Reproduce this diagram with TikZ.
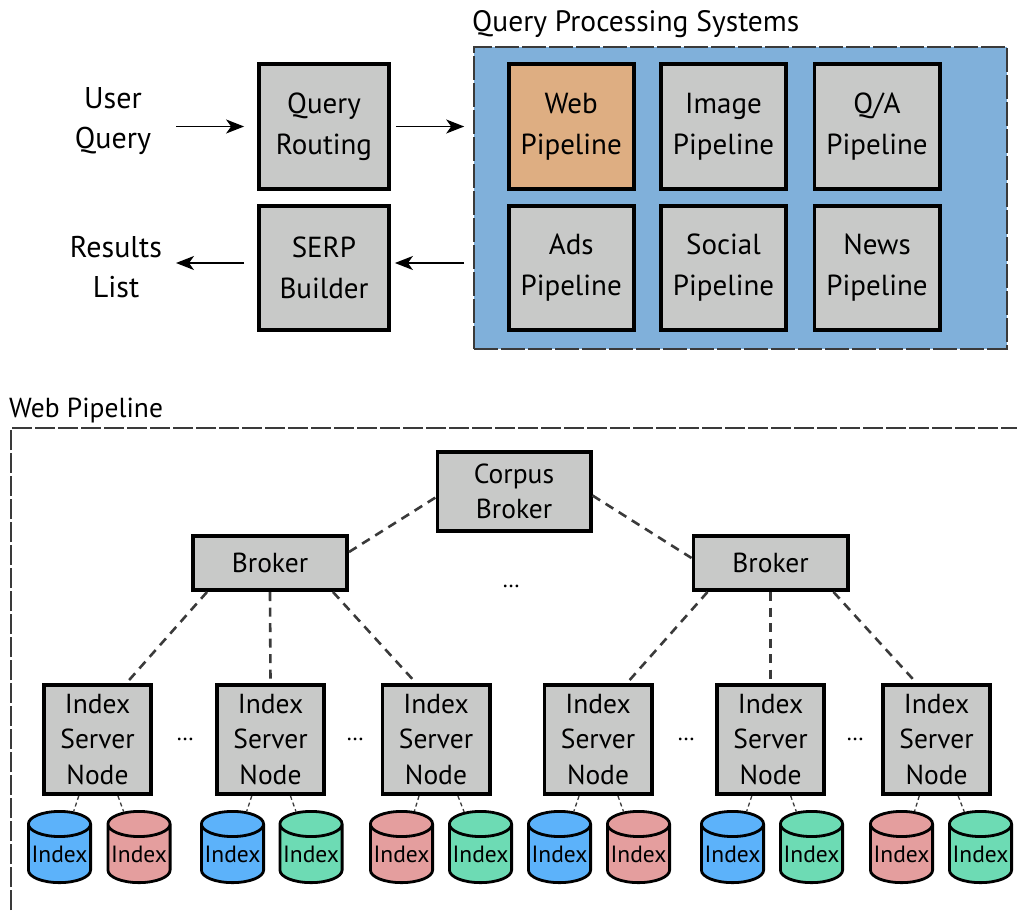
\documentclass[tikz,border=0pt]{standalone}
\usepackage{fontspec}
\setmainfont{PT Sans}
\usetikzlibrary{shapes.geometric,arrows.meta}

\definecolor{boxgray}{HTML}{C8C9C8}
\definecolor{webtan}{HTML}{DEAE82}
\definecolor{qpsblue}{HTML}{80B0DA}
\definecolor{idxblue}{HTML}{5CB2FA}
\definecolor{idxred}{HTML}{E49E9E}
\definecolor{idxgreen}{HTML}{6DDBB4}
\definecolor{linkgray}{HTML}{3A3A3A}

\tikzset{
  bigbox/.style={draw=black, line width=3.8pt, fill=boxgray, align=center,
    inner sep=0pt, minimum width=125.2pt, minimum height=124.7pt,
    font=\fontsize{29}{41}\selectfont},
  lowbox/.style={draw=black, line width=3.6pt, fill=boxgray, align=center,
    inner sep=0pt, font=\fontsize{27.5}{35.5}\selectfont},
  isnbox/.style={lowbox, minimum width=107.4pt, minimum height=109.4pt},
  idx/.style={cylinder, shape border rotate=90, aspect=0.45, draw=black,
    line width=2.8pt, cylinder uses custom fill, cylinder body fill=#1,
    cylinder end fill=#1, minimum width=62.2pt, minimum height=71.2pt,
    inner sep=0pt, font=\fontsize{23.5}{26}\selectfont},
  plain/.style={align=center, inner sep=0pt, font=\fontsize{30}{40}\selectfont},
  heading/.style={inner sep=0pt, anchor=base west},
  dots/.style={inner sep=0pt, font=\fontsize{23}{26}\selectfont},
  flow/.style={line width=1.5pt, -{Stealth[length=18pt, width=14pt, inset=5pt]}},
  link/.style={draw=linkgray, line width=2.6pt, dash pattern=on 9pt off 6.5pt},
  leaf/.style={draw=linkgray, line width=1.3pt, dash pattern=on 4pt off 3pt},
}

\begin{document}
\begin{tikzpicture}[x=1pt, y=-1pt]
\useasboundingbox (0,0) rectangle (1017,910);

% ---------- query processing systems ----------
\node[heading, font=\fontsize{29.5}{32}\selectfont] (qpslabel) at (472,31) {Query Processing Systems};
\node[draw=linkgray, line width=1.6pt, dash pattern=on 24pt off 3pt, fill=qpsblue,
      minimum width=533pt, minimum height=302pt, inner sep=0pt] (qps) at (740.5,198) {};

\node[bigbox, fill=webtan] (web) at (571.2,126.5) {Web\\Pipeline};
\node[bigbox] (image) at (723.5,126.5) {Image\\Pipeline};
\node[bigbox] (qa) at (877,126.5) {Q/A\\Pipeline};
\node[bigbox] (ads) at (571.2,268) {Ads\\Pipeline};
\node[bigbox] (social) at (723.5,268) {Social\\Pipeline};
\node[bigbox] (news) at (877,268) {News\\Pipeline};

\node[bigbox, minimum width=130pt] (route) at (324,126.5) {Query\\Routing};
\node[bigbox, minimum width=130pt] (serp) at (324,268) {SERP\\Builder};

\node[plain] (user) at (113,121) {User\\Query};
\node[plain] (results) at (116,267) {Results\\List};

\coordinate (leftend) at (176,0);
\draw[flow] (route.west -| leftend) -- ([xshift=-13pt]route.west);
\draw[flow] ([xshift=5pt]route.east) -- ([xshift=-9pt]route.east -| qps.west);
\draw[flow] ([xshift=-9pt, yshift=5pt]serp.east -| qps.west) -- ([xshift=4pt, yshift=5pt]serp.east);
\draw[flow] ([xshift=-13pt, yshift=5pt]serp.west) -- ([yshift=5pt]serp.west -| leftend);

% ---------- web pipeline ----------
\node[heading, font=\fontsize{27.5}{30}\selectfont] (wplabel) at (9,417) {Web Pipeline};
\coordinate (wpcorner) at (11,428);
\coordinate (wpfar) at (1017,910);
\draw[linkgray, line width=1.6pt, dash pattern=on 20pt off 3pt]
  (wpcorner |- wpfar) -- (wpcorner) -- (wpcorner -| wpfar);

\node[lowbox, minimum width=153.4pt, minimum height=79pt] (corpus) at (514,491.5) {Corpus\\Broker};
\node[lowbox, minimum width=154.4pt, minimum height=54.4pt] (brokerL) at (270,563) {Broker};
\node[lowbox, minimum width=154.4pt, minimum height=54.4pt] (brokerR) at (770.5,563) {Broker};
\node[dots] (dotsB) at (511,586) {…};

\draw[link] ([yshift=11pt]brokerL.east) -- ([yshift=-6pt]corpus.west);
\draw[link] ([yshift=-4pt]corpus.east) -- ([yshift=5pt]brokerR.west);

\foreach \n/\x in {1/97.5, 2/270.5, 3/436, 4/598, 5/770.5, 6/936.5}
  \node[isnbox] (isn\n) at (\x,739.5) {Index\\Server\\Node};

\foreach \n/\x in {a/185, b/355, c/686, d/855}
  \node[dots] (dots\n) at (\x,739) {…};

\foreach \b/\l/\m/\r in {brokerL/1/2/3, brokerR/4/5/6} {
  \draw[link] ([xshift=16pt]\b.south west) -- ([xshift=29pt]isn\l.north);
  \draw[link] (\b.south) -- (isn\m.north);
  \draw[link] ([xshift=-16pt]\b.south east) -- ([xshift=-20pt]isn\r.north);
}

\foreach \n/\x/\c/\s in {1/59.5/idxblue/1, 2/139/idxred/1, 3/232.5/idxblue/2, 4/311/idxgreen/2,
    5/401.5/idxred/3, 6/480.5/idxgreen/3, 7/559.5/idxblue/4, 8/638.5/idxred/4,
    9/732.5/idxblue/5, 10/811.5/idxgreen/5, 11/901.5/idxred/6, 12/980.5/idxgreen/6} {
  \node[idx=\c] (idx\n) at (\x,854) {Index};
  \draw[leaf] (isn\s) -- (idx\n);
}
\end{tikzpicture}
\end{document}
